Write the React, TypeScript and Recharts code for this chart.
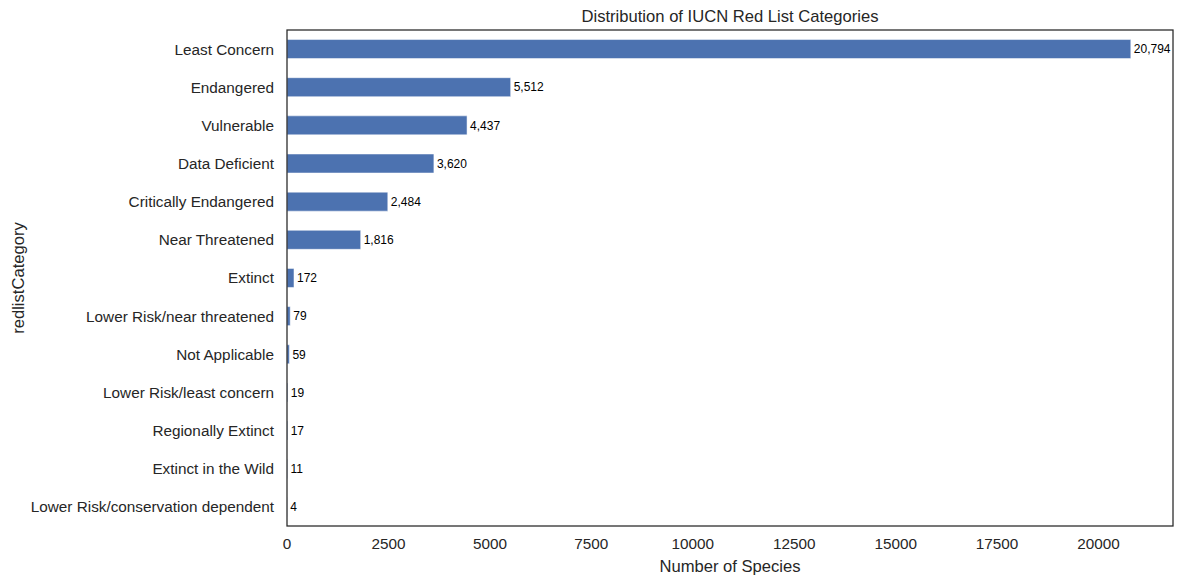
import React from "react";
import { BarChart, Bar, XAxis, YAxis, LabelList } from "recharts";

const categories = [
  "Least Concern",
  "Endangered",
  "Vulnerable",
  "Data Deficient",
  "Critically Endangered",
  "Near Threatened",
  "Extinct",
  "Lower Risk/near threatened",
  "Not Applicable",
  "Lower Risk/least concern",
  "Regionally Extinct",
  "Extinct in the Wild",
  "Lower Risk/conservation dependent",
];

const counts = [20794, 5512, 4437, 3620, 2484, 1816, 172, 79, 59, 19, 17, 11, 4];

const xTicks = [0, 2500, 5000, 7500, 10000, 12500, 15000, 17500, 20000];

const data = categories.map((name, i) => ({ name, count: counts[i] }));

const FONT = '"Liberation Sans", Arial, sans-serif';
const INK = "#262626";

const W = 1184;
const H = 584;
const M = { top: 30, right: 11, bottom: 58, left: 287 };

// title, axis titles and the frame, drawn over the chart
function Decorations() {
  const pw = W - M.left - M.right;
  const ph = H - M.top - M.bottom;
  const cx = M.left + pw / 2;
  const cy = M.top + ph / 2;
  return (
    <svg
      width={W}
      height={H}
      style={{ position: "absolute", left: 0, top: 0, pointerEvents: "none" }}
    >
      <g fontFamily={FONT} fill={INK}>
        <rect
          x={M.left}
          y={M.top}
          width={pw}
          height={ph}
          fill="none"
          stroke={INK}
          strokeWidth={1.25}
        />
        <text x={cx} y={22} textAnchor="middle" fontSize={16.6}>
          Distribution of IUCN Red List Categories
        </text>
        <text x={cx} y={572} textAnchor="middle" fontSize={16.6}>
          Number of Species
        </text>
        <text
          x={24}
          y={cy}
          textAnchor="middle"
          fontSize={16.6}
          transform={`rotate(-90 24 ${cy})`}
        >
          redlistCategory
        </text>
      </g>
    </svg>
  );
}

export default function App() {
  return (
    <div
      style={{
        position: "absolute",
        left: 0,
        top: 0,
        width: W,
        height: H,
        background: "#fff",
      }}
    >
      <BarChart
        width={W}
        height={H}
        data={data}
        layout="vertical"
        margin={{ top: M.top, right: M.right, left: 0, bottom: 0 }}
        barCategoryGap="25%"
      >
        <XAxis
          type="number"
          dataKey="count"
          domain={[0, 21834]}
          ticks={xTicks}
          height={M.bottom}
          axisLine={false}
          tickLine={false}
          tickSize={0}
          tickMargin={12}
          interval={0}
          tick={{ fontSize: 15.3, fill: INK, fontFamily: FONT }}
        />
        <YAxis
          type="category"
          dataKey="name"
          width={M.left}
          axisLine={false}
          tickLine={false}
          tickSize={0}
          tickMargin={13}
          interval={0}
          tick={{ fontSize: 15.3, fill: INK, fontFamily: FONT }}
        />
        <Bar
          dataKey="count"
          fill="#4c72b0"
          stroke="#ffffff"
          strokeWidth={0.5}
          isAnimationActive={false}
        >
          <LabelList
            dataKey="count"
            position="right"
            offset={3}
            formatter={(v: any) => Number(v).toLocaleString("en-US")}
            style={{ fontSize: 12, fill: "#000", fontFamily: FONT }}
          />
        </Bar>
      </BarChart>
      <Decorations />
    </div>
  );
}
